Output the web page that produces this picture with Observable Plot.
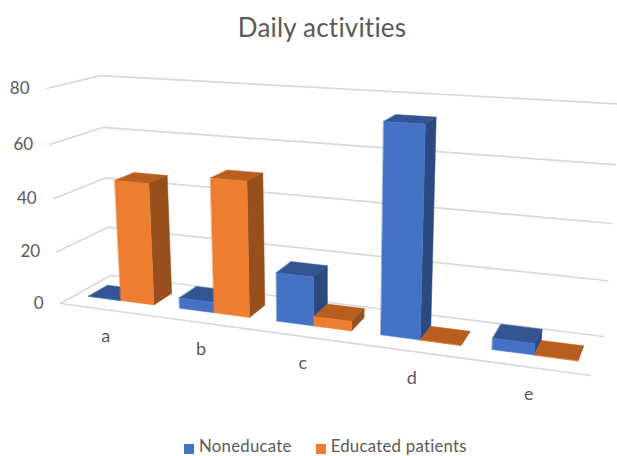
<!DOCTYPE html>
<html>
<head>
<meta charset="utf-8">
<script src="https://cdn.jsdelivr.net/npm/d3@7"></script>
<script src="https://cdn.jsdelivr.net/npm/@observablehq/plot@0.6"></script>
<style>
  html, body { margin: 0; padding: 0; background: #fff; overflow: hidden; }
  #chart { width: 617px; height: 456px; position: relative; font-family: Lato, sans-serif; color: #595959; }
  #title { height: 46px; line-height: 54px; font-size: 26px; text-align: center; letter-spacing: 0.2px; padding-left: 27px; box-sizing: border-box; }
  #legend { position: absolute; left: 184px; top: 438px; height: 16px; min-height: 0 !important; margin: 0 !important; line-height: 16px; letter-spacing: 0.25px; }
  #legend span { margin-right: 24px !important; line-height: 16px; overflow: visible !important; }
  #legend svg { margin-right: 5px !important; overflow: visible !important; position: relative; top: 3px; }
</style>
</head>
<body>
<div id="chart"><div id="title">Daily activities</div></div>
<script>
const categories = ["a", "b", "c", "d", "e"];
const seriesNames = ["Noneducate", "Educated patients"];
const noneducate = [0, 4, 18, 74, 4];
const educated = [46, 50, 3.5, 0, 0];
const tickValues = [0, 20, 40, 60, 80];

const maxValue = 80;
const frontColors = ["#4472C4", "#ED7D31"];
const topColors = ["#335593", "#B85F20"];
const sideColors = ["#2B4A80", "#97501C"];

// Perspective camera: maps (along, depth, value/max) on a unit box to the picture plane.
const origin = [60, 303];
const axisEnds = [[590, 375], [110, 275], [46, 88]];
const perspective = [-0.158, 0.0792, -0.05];
function project(u, d, v) {
  const c = [u, d, v / maxValue];
  const den = 1 + d3.sum(c, (ci, k) => ci * perspective[k]);
  const coord = (j) => (origin[j] + d3.sum(c, (ci, k) => ci * (axisEnds[k][j] * (1 + perspective[k]) - origin[j]))) / den;
  return {x: coord(0), y: coord(1)};
}

// Box layout inside the floor.
const slot = 1 / categories.length;
const barWidth = 0.0725;
const depthFront = 0.3;
const depthBack = 0.69;

function barFaces(i, s, value) {
  const center = (i + 0.5) * slot;
  const u0 = s === 0 ? center - barWidth : center;
  const u1 = u0 + barWidth;
  const series = seriesNames[s];
  const pts = (list) => list.map(([u, d, v]) => ({...project(u, d, v), series}));
  return {
    s,
    top: pts([[u0, depthFront, value], [u1, depthFront, value], [u1, depthBack, value], [u0, depthBack, value]]),
    side: pts([[u1, depthFront, 0], [u1, depthBack, 0], [u1, depthBack, value], [u1, depthFront, value]]),
    front: pts([[u0, depthFront, 0], [u1, depthFront, 0], [u1, depthFront, value], [u0, depthFront, value]])
  };
}

const bars = categories.flatMap((_, i) => [barFaces(i, 0, noneducate[i]), barFaces(i, 1, educated[i])]);

const face = (points, fill) => Plot.line(points, {x: "x", y: "y", fill, stroke: fill, strokeWidth: 0.5, curve: "linear-closed"});

const gridMarks = tickValues.map((v) =>
  Plot.line([project(0, 0, v), project(0, 1, v), project(1, 1, v)], {x: "x", y: "y", stroke: "#D9D9D9", strokeWidth: 1.7})
);
const floorEdge = Plot.line([project(0, 0, 0), project(1, 0, 0)], {x: "x", y: "y", stroke: "#D9D9D9", strokeWidth: 1.7});

const barMarks = bars.flatMap((b) => {
  const marks = [face(b.top, topColors[b.s]), face(b.side, sideColors[b.s])];
  marks.push(face(b.front, "series"));
  return marks;
});

const tickLabels = Plot.text(tickValues, {
  x: (v) => project(0, 0, v).x,
  y: (v) => project(0, 0, v).y,
  text: (v) => String(v),
  textAnchor: "end",
  dx: -17,
  dy: 0,
  fontSize: 17,
  fill: "#595959"
});
const categoryLabels = Plot.text(categories, {
  x: (c, i) => project((i + 0.5) * slot, 0, 0).x,
  y: (c, i) => project((i + 0.5) * slot, 0, 0).y,
  text: (c) => c,
  dy: 27,
  fontSize: 18,
  fill: "#595959"
});

const plot = Plot.plot({
  width: 617,
  height: 384,
  margin: 0,
  style: {fontFamily: "Lato, sans-serif", background: "transparent", overflow: "visible"},
  x: {domain: [0, 617], range: [0, 617], axis: null},
  y: {domain: [46, 430], range: [0, 384], axis: null},
  color: {domain: seriesNames, range: frontColors},
  marks: [...gridMarks, floorEdge, ...barMarks, tickLabels, categoryLabels]
});

const chart = document.getElementById("chart");
plot.style.display = "block";
chart.appendChild(plot);

const legend = plot.legend("color", {
  swatchSize: 10,
  style: {fontFamily: "Lato, sans-serif", fontSize: "16.8px", color: "#595959"}
});
legend.id = "legend";
chart.appendChild(legend);
</script>
</body>
</html>
